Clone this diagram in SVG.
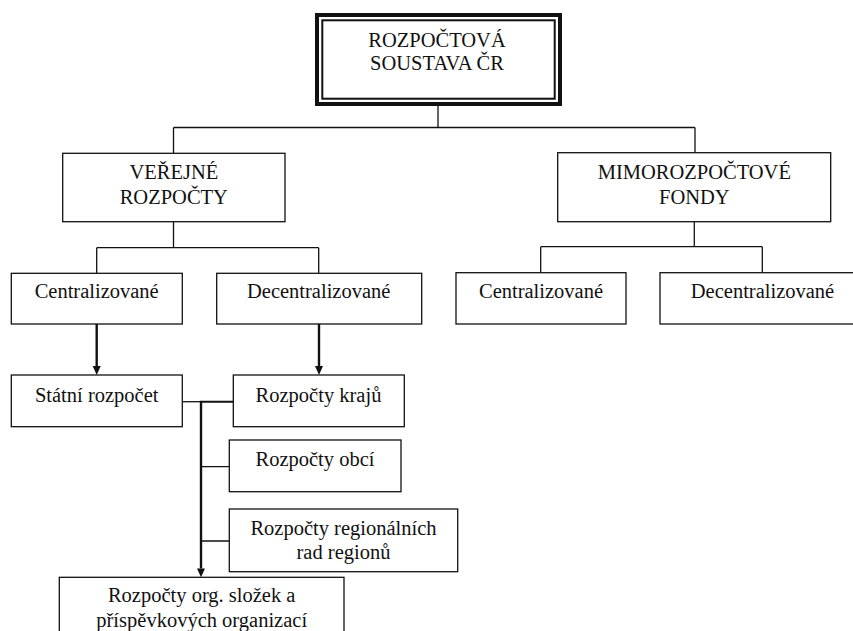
<svg xmlns="http://www.w3.org/2000/svg" width="853" height="631" viewBox="0 0 853 631" font-family="Liberation Serif, Times New Roman, serif">
<style>
.box{fill:#fff;stroke:#111;stroke-width:1.3}
.t{font-size:20.5px;fill:#111;text-anchor:middle}
.c{fill:none;stroke:#111;stroke-width:1.3}
.ck{fill:none;stroke:#111;stroke-width:2.4}
</style>
<g id="connectors">
<path class="c" d="M438,106 V127.5 M173.5,127.5 H695 M173.5,127.5 V153.3 M695,127.5 V152.7"/>
<path class="c" d="M173.5,221.7 V247.7 M96.7,247.7 H318.7 M96.7,247.7 V273.3 M318.7,247.7 V273.3"/>
<path class="c" d="M694.3,221.7 V246.7 M540.7,246.7 H762.3 M540.7,246.7 V272.7 M762.3,246.7 V272.7"/>
<path class="ck" d="M96.7,324 V366"/>
<path d="M92.7,366 L100.7,366 L96.7,375 Z" fill="#111"/>
<path class="ck" d="M319,324 V366"/>
<path d="M315,366 L323,366 L319,375 Z" fill="#111"/>
<path class="c" d="M182.3,401.7 H200"/>
<path class="ck" d="M200,401.7 H233.3" style="stroke-width:2"/>
<path class="ck" d="M201,401.7 V568.5"/>
<path d="M197,568.5 L205,568.5 L201,577.3 Z" fill="#111"/>
<path class="c" d="M201,466.7 H229.3 M201,541 H229.3"/>
</g>
<g id="n-root">
<rect x="317" y="15" width="243" height="89" fill="#fff" stroke="#111" stroke-width="4"/>
<rect x="322.3" y="20.3" width="232.4" height="78.4" fill="none" stroke="#111" stroke-width="2"/>
<text class="t" x="437" y="46.7">ROZPOČTOVÁ</text>
<text class="t" x="437" y="70">SOUSTAVA ČR</text>
</g>
<g id="n-verejne">
<rect class="box" x="62.7" y="153.3" width="222.3" height="68.4"/>
<text class="t" x="173.8" y="179">VEŘEJNÉ</text>
<text class="t" x="173.8" y="204">ROZPOČTY</text>
</g>
<g id="n-mimo">
<rect class="box" x="557.7" y="152.7" width="273" height="69"/>
<text class="t" x="694.3" y="179">MIMOROZPOČTOVÉ</text>
<text class="t" x="694.3" y="204">FONDY</text>
</g>
<g id="n-vr-central">
<rect class="box" x="11.3" y="273.3" width="171" height="50.7"/>
<text class="t" x="96.7" y="298.3">Centralizované</text>
</g>
<g id="n-vr-decentral">
<rect class="box" x="216.7" y="273.3" width="205" height="50.7"/>
<text class="t" x="318.7" y="298.3">Decentralizované</text>
</g>
<g id="n-mf-central">
<rect class="box" x="456" y="272.7" width="170" height="51.3"/>
<text class="t" x="541" y="298.3">Centralizované</text>
</g>
<g id="n-mf-decentral">
<rect class="box" x="660" y="272.7" width="205" height="51.3"/>
<text class="t" x="762.5" y="298.3">Decentralizované</text>
</g>
<g id="n-statni">
<rect class="box" x="11.3" y="375" width="171" height="51.7"/>
<text class="t" x="96.7" y="401.7">Státní rozpočet</text>
</g>
<g id="n-kraje">
<rect class="box" x="233.3" y="375" width="171" height="51.7"/>
<text class="t" x="318.5" y="401.7">Rozpočty krajů</text>
</g>
<g id="n-obce">
<rect class="box" x="229.3" y="440" width="171.7" height="51.7"/>
<text class="t" x="315" y="466.3">Rozpočty obcí</text>
</g>
<g id="n-regiony">
<rect class="box" x="229.3" y="509" width="228.4" height="62.7"/>
<text class="t" x="343.5" y="535">Rozpočty regionálních</text>
<text class="t" x="343.5" y="559">rad regionů</text>
</g>
<g id="n-org">
<rect class="box" x="59.3" y="577.3" width="284.7" height="70"/>
<text class="t" x="201.7" y="602.3">Rozpočty org. složek a</text>
<text class="t" x="201.7" y="626.7">příspěvkových organizací</text>
</g>
</svg>
